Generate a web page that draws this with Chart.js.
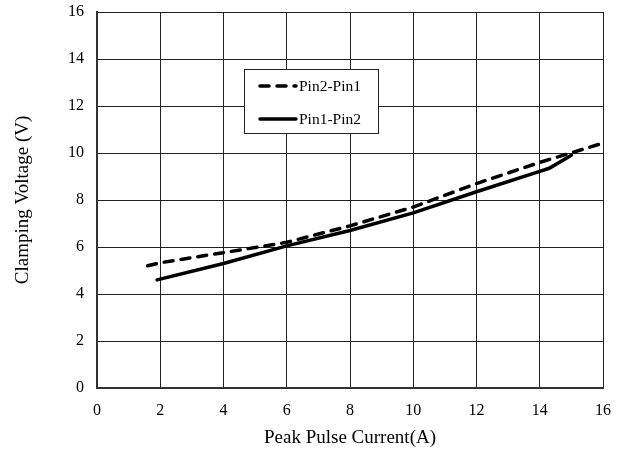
<!DOCTYPE html>
<html>
<head>
<meta charset="utf-8">
<script src="https://cdn.jsdelivr.net/npm/chart.js@4"></script>
<style>
  body { margin: 0; background: #fff; }
  #wrap { width: 627px; height: 457px; }
</style>
</head>
<body>
<div id="wrap"><canvas id="myChart" width="627" height="457"></canvas></div>
<script>
// values
const pin21_x = [1.6, 2, 4, 6, 8, 10, 12, 14, 16];
const pin21_y = [5.2, 5.33, 5.76, 6.2, 6.9, 7.7, 8.7, 9.6, 10.42];
const pin12_x = [1.9, 4, 6, 8, 10, 12, 14, 14.3, 15];
const pin12_y = [4.6, 5.3, 6.05, 6.7, 7.45, 8.35, 9.22, 9.35, 9.9];
const seriesNames = ['Pin2-Pin1', 'Pin1-Pin2'];
const xTitle = 'Peak Pulse Current(A)';
const yTitle = 'Clamping Voltage (V)';

function toPoints(xs, ys) {
  let pts = [];
  for (let i = 0; i < xs.length; i++) {
    pts.push({x: xs[i], y: ys[i]});
  }
  return pts;
}

const serif = "'Liberation Serif', 'Times New Roman', serif";

// legend box drawn in the plot, like the original
const boxLegend = {
  id: 'boxLegend',
  afterDraw(chart) {
    const ctx = chart.ctx;
    ctx.save();
    ctx.fillStyle = '#fff';
    ctx.fillRect(244.5, 69.5, 134, 64);
    ctx.strokeStyle = '#222';
    ctx.lineWidth = 1;
    ctx.strokeRect(244.5, 69.5, 134, 64);
    const rows = [86, 119];
    chart.data.datasets.forEach(function(ds, i) {
      ctx.beginPath();
      ctx.lineWidth = 3.5;
      ctx.strokeStyle = '#000';
      ctx.lineCap = 'round';
      ctx.setLineDash(ds.borderDash || []);
      ctx.moveTo(260, rows[i]);
      ctx.lineTo(296, rows[i]);
      ctx.stroke();
      ctx.setLineDash([]);
      ctx.fillStyle = '#000';
      ctx.font = '15.5px ' + serif;
      ctx.textBaseline = 'middle';
      ctx.fillText(ds.label, 299, rows[i] + 1);
    });
    ctx.restore();
  }
};

const data = {
  datasets: [
    {
      label: seriesNames[0],
      data: toPoints(pin21_x, pin21_y),
      borderColor: '#000',
      borderWidth: 3.5,
      borderDash: [9, 8],
      borderCapStyle: 'round',
      pointRadius: 0,
      tension: 0,
      fill: false
    },
    {
      label: seriesNames[1],
      data: toPoints(pin12_x, pin12_y),
      borderColor: '#000',
      borderWidth: 3.5,
      borderCapStyle: 'round',
      pointRadius: 0,
      tension: 0,
      fill: false
    }
  ]
};

const config = {
  type: 'line',
  data: data,
  options: {
    responsive: false,
    animation: false,
    layout: { padding: { top: 12, right: 24, left: 0, bottom: 0 } },
    plugins: {
      legend: { display: false },
      tooltip: { enabled: false }
    },
    scales: {
      x: {
        type: 'linear',
        min: 0, max: 16,
        ticks: { stepSize: 2, color: '#000', font: { family: serif, size: 16 }, padding: 13 },
        grid: { color: '#222', lineWidth: 1, drawTicks: false },
        border: { color: '#333', width: 2 },
        title: { display: true, text: xTitle, color: '#000', font: { family: serif, size: 19 }, padding: { top: 0, bottom: 8 } },
        afterFit: function(scale) { scale.height = 69; scale.paddingLeft = 0; scale.paddingRight = 0; }
      },
      y: {
        min: 0, max: 16,
        ticks: { stepSize: 2, color: '#000', font: { family: serif, size: 16 }, padding: 13 },
        grid: { color: '#222', lineWidth: 1, drawTicks: false },
        border: { color: '#333', width: 2 },
        title: { display: true, text: yTitle, color: '#000', font: { family: serif, size: 19 }, padding: { top: 12, bottom: 0 } },
        afterFit: function(scale) { scale.width = 97; scale.paddingTop = 0; scale.paddingBottom = 0; }
      }
    }
  },
  plugins: [boxLegend]
};

const myChart = new Chart(document.getElementById('myChart'), config);
</script>
</body>
</html>
